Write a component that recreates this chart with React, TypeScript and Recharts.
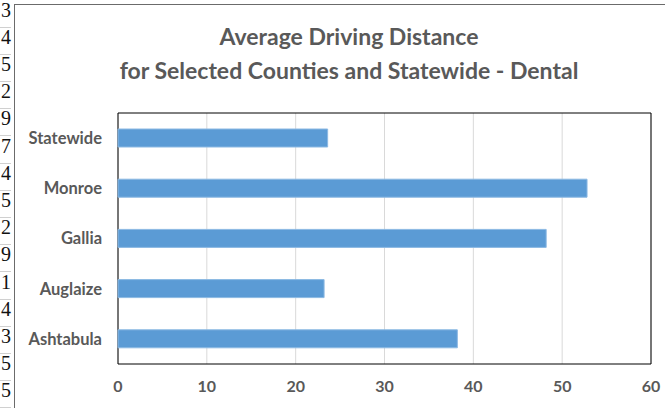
import React from 'react';
import {
	Bar,
	BarChart,
	CartesianGrid,
	ReferenceArea,
	XAxis,
	YAxis,
} from 'recharts';

const counties = ['Statewide', 'Monroe', 'Gallia', 'Auglaize', 'Ashtabula'];
const distances = [23.6, 52.8, 48.2, 23.2, 38.2];
const xTicks = [0, 10, 20, 30, 40, 50, 60];
// spreadsheet row digits visible at the left edge
const rowDigits = ['3', '4', '5', '2', '9', '7', '4', '5', '2', '9', '1', '4', '3', '5', '5'];

const data = counties.map((name, i) => ({ name, value: distances[i] }));

const font = 'Lato, "Open Sans", sans-serif';
const grey = '#595959';

export default function App() {
	return (
		<div
			style={{
				position: 'fixed',
				left: 0,
				top: 0,
				width: 665,
				height: 408,
				overflow: 'hidden',
				background: '#fff',
			}}
		>
			{/* sheet cells at the left */}
			{rowDigits.map((d, i) => (
				<div
					key={i}
					style={{
						position: 'absolute',
						left: -19,
						top: 0.5 + i * 27.2,
						width: 30,
						height: 27.2,
						boxSizing: 'border-box',
						borderBottom: '1px solid #d0d0d0',
						textAlign: 'right',
						fontFamily: '"Liberation Serif", serif',
						fontSize: 20,
						lineHeight: '19px',
						color: '#111',
					}}
				>
					{d}
				</div>
			))}

			{/* chart frame */}
			<div
				style={{
					position: 'absolute',
					left: 14,
					top: 4,
					width: 700,
					height: 430,
					border: '1px solid #6b6b6b',
					boxSizing: 'border-box',
				}}
			/>

			<div
				style={{
					position: 'absolute',
					left: 15,
					top: 19,
					width: 668,
					textAlign: 'center',
					fontFamily: font,
					fontWeight: 700,
					fontSize: 23,
					lineHeight: '34px',
					color: grey,
				}}
			>
				Average Driving Distance
				<br />
				for Selected Counties and Statewide - Dental
			</div>

			<div style={{ position: 'absolute', left: 15, top: 4 }}>
				<BarChart
					width={650}
					height={404}
					data={data}
					layout='vertical'
					margin={{ top: 109, right: 14, bottom: 0, left: 0 }}
				>
					<CartesianGrid horizontal={false} stroke='#d9d9d9' />
					<XAxis
						type='number'
						domain={[0, 60]}
						ticks={xTicks}
						tickLine={false}
						axisLine={false}
						height={44}
						tickMargin={11}
						tick={{ fill: grey, fontSize: 16, fontWeight: 700, fontFamily: font }}
					/>
					<YAxis
						type='category'
						dataKey='name'
						width={103}
						tickLine={false}
						axisLine={false}
						tickSize={0}
						tickMargin={16}
						tick={{ fill: grey, fontSize: 16.5, fontWeight: 700, fontFamily: font }}
					/>
					<Bar
						dataKey='value'
						fill='#5b9bd5'
						stroke='#8cb9e3'
						strokeWidth={1}
						barSize={18}
						isAnimationActive={false}
					/>
					<ReferenceArea
						x1={0}
						x2={60}
						fill='none'
						stroke='#000'
						strokeWidth={1}
						ifOverflow='visible'
					/>
				</BarChart>
			</div>
		</div>
	);
}
